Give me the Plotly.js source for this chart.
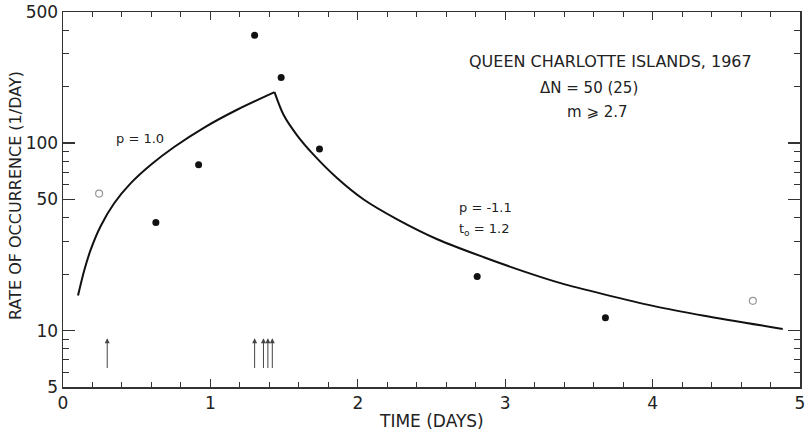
<!DOCTYPE html>
<html><head><meta charset="utf-8">
<script src="https://cdn.plot.ly/plotly-3.0.1.min.js"></script>
<style>html,body{margin:0;padding:0;background:#fff}</style>
</head><body><div id="chart" style="width:806px;height:445px"></div>
<script>
// Fitted curve
const riseTime  = [0.102, 0.143, 0.188, 0.256, 0.346, 0.460, 0.596, 0.754, 0.958, 1.184, 1.435];
const riseRate  = [15.4, 20.8, 27.0, 36.1, 47.6, 61.1, 76.6, 95.3, 121, 151, 187];
const decayTime = [1.435, 1.497, 1.588, 1.701, 1.859, 2.040, 2.267, 2.539, 2.855, 3.140, 3.376, 3.671, 4.010, 4.350, 4.883];
const decayRate = [187, 141, 110, 86.5, 65.1, 50.0, 39.2, 30.7, 24.6, 20.5, 17.9, 15.6, 13.5, 12.0, 10.2];
// Observed rates
const obsTime  = [0.63, 0.92, 1.30, 1.48, 1.74, 2.81, 3.68];
const obsRate  = [37.7, 76.6, 376, 224, 93, 19.4, 11.7];
const openTime = [0.245, 4.68];
const openRate = [53.8, 14.4];
// Large-event times (arrows)
const shockTime = [0.30, 1.30, 1.36, 1.39, 1.42];
const arrowTail = 6.2, arrowTip = 9.1;
// Ticks
const xTicks = [0, 1, 2, 3, 4, 5];
const xTickText = ['0', '1', '2', '3', '4', '5'];
const xMinor = [0.2,0.4,0.6,0.8,1.2,1.4,1.6,1.8,2.2,2.4,2.6,2.8,3.2,3.4,3.6,3.8,4.2,4.4,4.6,4.8];
const yTicks = [5, 10, 50, 100, 500];
const yTickText = ['5', '10', '50', '100', '500'];
const yMinor = [6, 7, 8, 9, 20, 30, 40, 60, 70, 80, 90, 200, 300, 400];

const FONT = 'DejaVu Sans, sans-serif';
const INK = '#222';
const L = 63, R = 800, T = 12, B = 387;
const px = v => (v - L) / (R - L);
const py = v => (B - v) / (B - T);

const traces = [
  {x: riseTime, y: riseRate, mode: 'lines', line: {color: '#111', width: 2, shape: 'spline', smoothing: 0.8}, hoverinfo: 'skip'},
  {x: decayTime, y: decayRate, mode: 'lines', line: {color: '#111', width: 2, shape: 'spline', smoothing: 0.8}, hoverinfo: 'skip'},
  {x: obsTime, y: obsRate, mode: 'markers', marker: {color: '#111', size: 7, symbol: 'circle'}},
  {x: openTime, y: openRate, mode: 'markers', marker: {color: '#999', size: 7, symbol: 'circle-open', line: {width: 1.2, color: '#999'}}}
];

function txt(text, x, y, size, anchor, extra) {
  return Object.assign({text: text, xref: 'paper', yref: 'paper', x: px(x), y: py(y),
    xanchor: anchor || 'center', yanchor: 'middle', showarrow: false,
    font: {family: FONT, size: size, color: INK}}, extra || {});
}

const annotations = [
  txt('QUEEN CHARLOTTE ISLANDS, 1967', 610, 62, 16),
  txt('ΔN = 50 (25)', 589, 88, 15),
  txt('m ⩾ 2.7', 597, 112, 15),
  txt('p = 1.0', 140, 138, 13),
  txt('p = -1.1', 457, 207, 13, 'left'),
  txt('t<sub>o</sub> = 1.2', 457, 230, 13, 'left'),
  txt('TIME (DAYS)', 431, 421, 17),
  txt('RATE OF OCCURRENCE (1/DAY)', 15, 196, 16, 'center', {textangle: -90})
];
shockTime.forEach(t => annotations.push({
  x: t, y: Math.log10(arrowTip), ax: t, ay: Math.log10(arrowTail),
  xref: 'x', yref: 'y', axref: 'x', ayref: 'y', text: '', showarrow: true,
  arrowhead: 2, arrowsize: 1, arrowwidth: 1, arrowcolor: '#444'
}));

const layout = {
  width: 806, height: 445,
  margin: {l: L, r: 806 - R, t: T, b: 445 - B},
  paper_bgcolor: '#fff', plot_bgcolor: '#fff',
  showlegend: false,
  xaxis: {
    range: [0, 5], tickmode: 'array', tickvals: xTicks, ticktext: xTickText,
    ticks: 'inside', ticklen: 8, tickwidth: 1.2, tickcolor: '#333',
    showline: true, linecolor: '#333', linewidth: 1.5, mirror: 'ticks',
    showgrid: false, zeroline: false,
    minor: {tickmode: 'array', tickvals: xMinor, ticks: 'inside', ticklen: 5, tickwidth: 1, tickcolor: '#333', showgrid: false},
    tickfont: {family: FONT, size: 17, color: INK}
  },
  yaxis: {
    type: 'log', range: [Math.log10(5), Math.log10(500)],
    tickmode: 'array', tickvals: yTicks, ticktext: yTickText,
    ticks: 'inside', ticklen: 12, tickwidth: 1.2, tickcolor: '#333',
    showline: true, linecolor: '#333', linewidth: 1.5, mirror: 'ticks',
    showgrid: false, zeroline: false,
    minor: {tickmode: 'array', tickvals: yMinor, ticks: 'inside', ticklen: 6, tickwidth: 1, tickcolor: '#333', showgrid: false},
    tickfont: {family: FONT, size: 17, color: INK}
  },
  annotations: annotations
};

Plotly.newPlot('chart', traces, layout, {displayModeBar: false, staticPlot: true});
</script></body></html>
